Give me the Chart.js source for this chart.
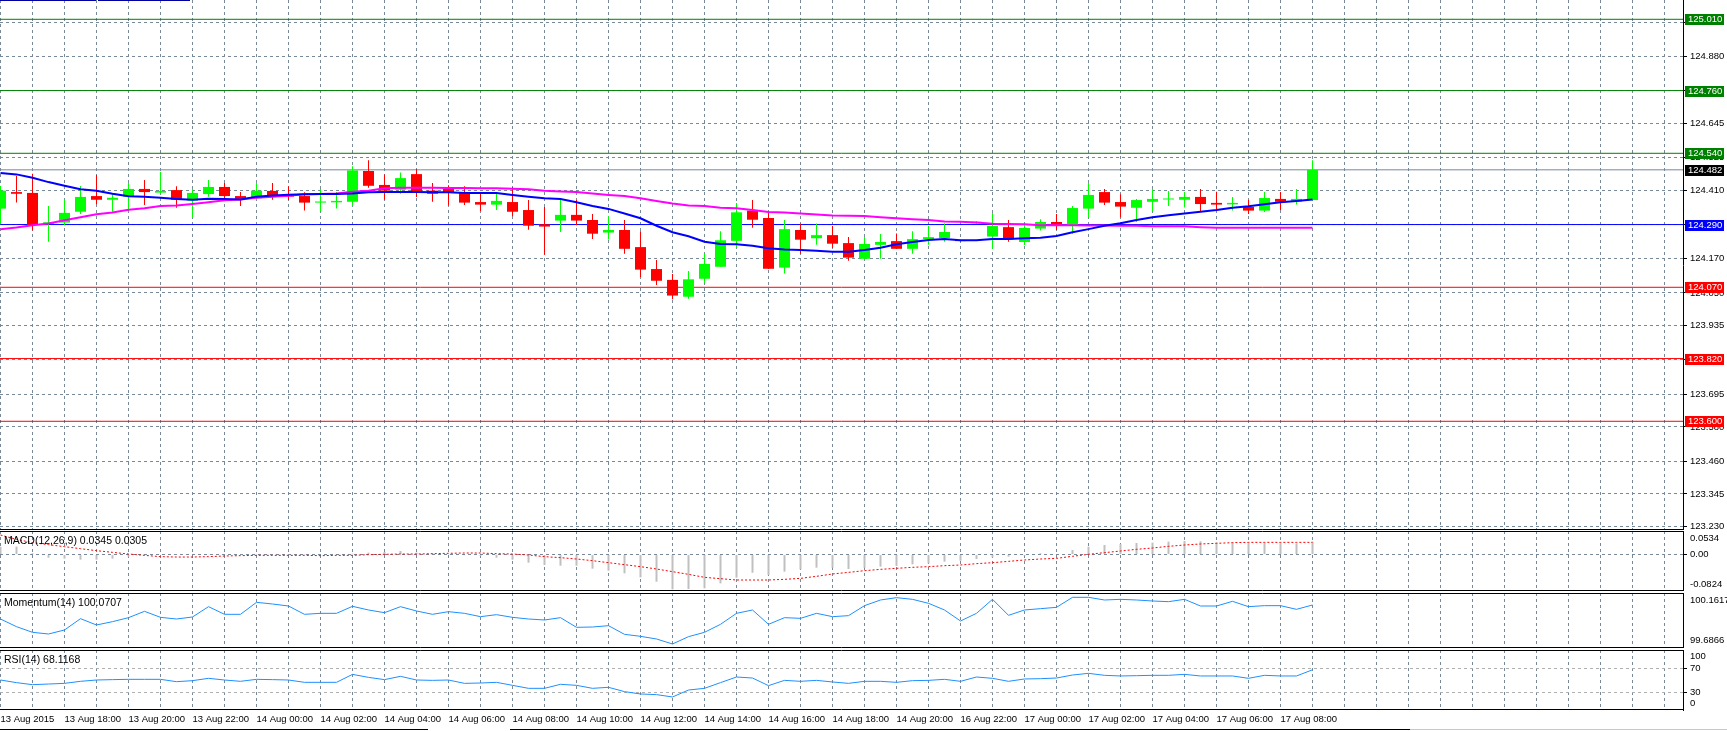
<!DOCTYPE html>
<html>
<head>
<meta charset="utf-8">
<script src="https://cdn.jsdelivr.net/npm/chart.js@4.4.1/dist/chart.umd.min.js"></script>
<style>
  body { margin: 0; background: #fff; width: 1727px; height: 731px; overflow: hidden; position: relative; }
  canvas { position: absolute; left: 0; }
  .strip { position: absolute; height: 1px; }
</style>
</head>
<body>
<canvas id="mainChart" width="1727" height="530" style="top:0"></canvas>
<canvas id="macdChart" width="1727" height="60" style="top:531px"></canvas>
<canvas id="momChart" width="1727" height="55" style="top:593px"></canvas>
<canvas id="rsiChart" width="1727" height="81" style="top:650px"></canvas>
<div class="strip" style="left:0;top:0;width:96px;background:#0000a0"></div>
<div class="strip" style="left:98px;top:0;width:92px;background:#0000a0"></div>
<div class="strip" style="left:0;top:729px;width:428px;background:#000"></div>
<div class="strip" style="left:510px;top:729px;width:900px;background:#000"></div>
<div class="strip" style="left:1410px;top:729px;width:317px;background:#c8c8c8"></div>
<script>
// 30분봉 시가/고가/저가/종가 (13 Aug 16:00 ~ 17 Aug 09:00)
const openPrices = [124.346, 124.404, 124.401, 124.292, 124.297, 124.335, 124.390, 124.377, 124.388, 124.415,
  124.402, 124.411, 124.374, 124.397, 124.422, 124.390, 124.382, 124.408, 124.394, 124.390,
  124.367, 124.368, 124.370, 124.478, 124.429, 124.412, 124.467, 124.409, 124.416, 124.404,
  124.369, 124.360, 124.369, 124.341, 124.291, 124.304, 124.324, 124.306, 124.262, 124.271,
  124.211, 124.134, 124.096, 124.037, 124.100, 124.142, 124.233, 124.339, 124.313, 124.139,
  124.271, 124.242, 124.253, 124.225, 124.170, 124.219, 124.232, 124.205, 124.239, 124.243,
  124.236, 124.295, 124.248, 124.281, 124.229, 124.276, 124.299, 124.285, 124.346, 124.404,
  124.369, 124.349, 124.370, 124.378, 124.377, 124.387, 124.366, 124.361, 124.352, 124.339,
  124.380, 124.370, 124.376];
const highPrices = [124.425, 124.460, 124.468, 124.355, 124.378, 124.425, 124.464, 124.396, 124.436, 124.446,
  124.474, 124.424, 124.415, 124.446, 124.436, 124.404, 124.436, 124.436, 124.424, 124.403,
  124.415, 124.404, 124.495, 124.516, 124.466, 124.473, 124.485, 124.436, 124.428, 124.424,
  124.404, 124.404, 124.422, 124.376, 124.352, 124.376, 124.376, 124.327, 124.319, 124.306,
  124.267, 124.166, 124.117, 124.127, 124.187, 124.267, 124.366, 124.376, 124.338, 124.306,
  124.294, 124.294, 124.285, 124.246, 124.246, 124.257, 124.259, 124.267, 124.285, 124.295,
  124.237, 124.302, 124.331, 124.306, 124.292, 124.309, 124.327, 124.355, 124.436, 124.415,
  124.396, 124.380, 124.415, 124.408, 124.404, 124.415, 124.405, 124.387, 124.376, 124.404,
  124.404, 124.415, 124.516];
const lowPrices = [124.291, 124.367, 124.269, 124.230, 124.288, 124.327, 124.361, 124.335, 124.339, 124.359,
  124.398, 124.349, 124.315, 124.388, 124.375, 124.355, 124.376, 124.377, 124.376, 124.339,
  124.338, 124.346, 124.355, 124.419, 124.377, 124.398, 124.387, 124.370, 124.357, 124.359,
  124.338, 124.341, 124.319, 124.272, 124.184, 124.264, 124.288, 124.239, 124.238, 124.188,
  124.106, 124.078, 124.028, 124.030, 124.086, 124.142, 124.209, 124.279, 124.134, 124.118,
  124.188, 124.219, 124.208, 124.163, 124.166, 124.170, 124.205, 124.188, 124.219, 124.230,
  124.231, 124.293, 124.205, 124.230, 124.218, 124.269, 124.271, 124.258, 124.316, 124.359,
  124.316, 124.299, 124.338, 124.355, 124.350, 124.338, 124.339, 124.339, 124.327, 124.334,
  124.341, 124.360, 124.376];
const closePrices = [124.409, 124.398, 124.288, 124.298, 124.331, 124.387, 124.377, 124.384, 124.415, 124.404,
  124.408, 124.377, 124.401, 124.422, 124.390, 124.380, 124.409, 124.390, 124.388, 124.367,
  124.371, 124.373, 124.480, 124.426, 124.409, 124.453, 124.404, 124.398, 124.403, 124.367,
  124.360, 124.373, 124.335, 124.286, 124.283, 124.324, 124.304, 124.258, 124.271, 124.205,
  124.132, 124.093, 124.041, 124.098, 124.152, 124.235, 124.333, 124.307, 124.135, 124.274,
  124.237, 124.253, 124.223, 124.174, 124.222, 124.229, 124.205, 124.239, 124.246, 124.264,
  124.232, 124.300, 124.285, 124.238, 124.278, 124.299, 124.285, 124.348, 124.394, 124.367,
  124.353, 124.376, 124.380, 124.381, 124.387, 124.362, 124.360, 124.366, 124.339, 124.383,
  124.370, 124.380, 124.482];

// 이동평균 (파란색: 단기, 자홍색: 장기)
const maFast = [124.471, 124.466, 124.454, 124.439, 124.426, 124.414, 124.409, 124.398, 124.389, 124.388,
  124.384, 124.380, 124.377, 124.381, 124.380, 124.378, 124.388, 124.392, 124.395, 124.396,
  124.397, 124.397, 124.399, 124.403, 124.404, 124.404, 124.404, 124.403, 124.403, 124.401,
  124.401, 124.401, 124.394, 124.388, 124.382, 124.380, 124.368, 124.355, 124.345, 124.329,
  124.312, 124.286, 124.263, 124.249, 124.230, 124.222, 124.221, 124.216, 124.207, 124.203,
  124.201, 124.198, 124.195, 124.195, 124.201, 124.209, 124.221, 124.229, 124.236, 124.239,
  124.235, 124.235, 124.239, 124.239, 124.242, 124.244, 124.250, 124.263, 124.274, 124.286,
  124.295, 124.306, 124.316, 124.323, 124.329, 124.335, 124.341, 124.349, 124.354, 124.361,
  124.368, 124.373, 124.378];
const maSlow = [124.274, 124.280, 124.288, 124.294, 124.305, 124.316, 124.326, 124.332, 124.342, 124.347,
  124.355, 124.357, 124.362, 124.368, 124.375, 124.378, 124.384, 124.388, 124.391, 124.396,
  124.397, 124.399, 124.405, 124.409, 124.417, 124.419, 124.419, 124.419, 124.418, 124.418,
  124.417, 124.417, 124.416, 124.414, 124.409, 124.406, 124.404, 124.399, 124.394, 124.390,
  124.382, 124.373, 124.364, 124.357, 124.355, 124.349, 124.347, 124.341, 124.334, 124.332,
  124.329, 124.325, 124.322, 124.321, 124.320, 124.316, 124.312, 124.309, 124.306, 124.301,
  124.300, 124.297, 124.293, 124.292, 124.291, 124.288, 124.288, 124.288, 124.287, 124.287,
  124.286, 124.286, 124.284, 124.284, 124.284, 124.281, 124.279, 124.279, 124.279, 124.279,
  124.279, 124.279, 124.279];

// 수평선 레벨
const resistanceLevels = [125.010, 124.760, 124.540];
const pivotLevel = 124.290;
const supportLevels = [124.070, 123.820, 123.600];

// 보조지표
const macdMain = [0.0179, 0.0179, 0.0029, -0.0070, -0.0092, -0.0115, -0.0115, -0.0092, -0.0047, -0.0017,
  -0.0009, -0.0002, 0.0000, 0.0006, 0.0000, -0.0005, 0.0005, 0.0010, 0.0005, -0.0005,
  -0.0010, 0.0000, 0.0020, 0.0044, 0.0060, 0.0081, 0.0044, 0.0029, 0.0006, -0.0017,
  -0.0032, -0.0070, -0.0115, -0.0183, -0.0236, -0.0251, -0.0251, -0.0319, -0.0364, -0.0424,
  -0.0515, -0.0613, -0.0786, -0.0779, -0.0764, -0.0651, -0.0522, -0.0409, -0.0462, -0.0386,
  -0.0334, -0.0296, -0.0296, -0.0326, -0.0296, -0.0273, -0.0258, -0.0220, -0.0198, -0.0160,
  -0.0138, -0.0100, -0.0062, -0.0047, -0.0024, 0.0029, 0.0013, 0.0104, 0.0179, 0.0217,
  0.0240, 0.0262, 0.0270, 0.0293, 0.0308, 0.0300, 0.0278, 0.0278, 0.0278, 0.0270,
  0.0270, 0.0255, 0.0293];
const macdSignal = [0.0443, 0.0345, 0.0270, 0.0225, 0.0179, 0.0134, 0.0089, 0.0051, 0.0013, -0.0017,
  -0.0047, -0.0055, -0.0055, -0.0047, -0.0032, -0.0024, -0.0017, -0.0017, -0.0017, -0.0017,
  -0.0024, -0.0017, -0.0017, -0.0002, 0.0006, 0.0013, 0.0013, 0.0021, 0.0029, 0.0036,
  0.0036, 0.0021, 0.0013, -0.0009, -0.0047, -0.0070, -0.0100, -0.0138, -0.0183, -0.0228,
  -0.0273, -0.0326, -0.0386, -0.0447, -0.0515, -0.0545, -0.0575, -0.0575, -0.0575, -0.0560,
  -0.0538, -0.0492, -0.0439, -0.0402, -0.0364, -0.0334, -0.0311, -0.0288, -0.0273, -0.0251,
  -0.0236, -0.0205, -0.0183, -0.0153, -0.0122, -0.0100, -0.0085, -0.0039, 0.0006, 0.0044,
  0.0081, 0.0119, 0.0149, 0.0187, 0.0217, 0.0240, 0.0255, 0.0270, 0.0277, 0.0277,
  0.0277, 0.0277, 0.0277];
const momentum = [99.9371, 99.8709, 99.8220, 99.8076, 99.8421, 99.9400, 99.8853, 99.9141, 99.9487, 100.0034,
  99.9515, 99.9371, 99.9544, 100.0437, 99.9775, 99.9775, 100.0811, 100.0667, 100.0494, 99.9775,
  99.9861, 99.9861, 100.0466, 100.0149, 99.9919, 100.0437, 100.0063, 99.9775, 100.0005, 99.9861,
  99.9573, 99.9746, 99.9515, 99.9371, 99.9285, 99.9487, 99.8652, 99.8680, 99.8796, 99.8047,
  99.7874, 99.7644, 99.7212, 99.7845, 99.8220, 99.8911, 99.9861, 100.0149, 99.8911, 99.9487,
  99.9429, 99.9861, 99.9573, 99.9659, 100.0523, 100.1013, 100.1214, 100.1070, 100.0725, 100.0149,
  99.9199, 99.9861, 100.1070, 99.9688, 100.0149, 100.0264, 100.0379, 100.1243, 100.1243, 100.1013,
  100.1070, 100.1013, 100.0926, 100.0869, 100.1070, 100.0494, 100.0494, 100.0898, 100.0437, 100.0523,
  100.0523, 100.0206, 100.0581];
const rsi = [50.0, 45.6, 42.2, 43.3, 44.4, 47.8, 50.0, 50.6, 51.1, 51.1,
  51.1, 47.2, 48.9, 52.8, 50.0, 47.8, 51.1, 50.6, 50.0, 46.1,
  46.1, 46.1, 59.4, 54.4, 50.6, 56.1, 50.0, 49.4, 50.0, 44.4,
  45.0, 46.1, 41.1, 36.1, 36.1, 42.8, 41.1, 36.1, 37.8, 30.6,
  26.7, 25.6, 21.7, 33.3, 36.1, 45.6, 55.0, 53.3, 40.6, 49.4,
  47.8, 49.4, 46.7, 44.4, 47.8, 47.8, 46.1, 48.9, 49.4, 51.1,
  47.8, 55.0, 52.8, 47.8, 51.7, 52.2, 53.3, 58.3, 61.1, 57.8,
  56.7, 57.2, 57.8, 57.8, 59.4, 56.7, 56.7, 56.7, 52.8, 57.8,
  56.7, 56.7, 67.0];

// 축 눈금
const timeLabels = ['13 Aug 2015', '13 Aug 18:00', '13 Aug 20:00', '13 Aug 22:00', '14 Aug 00:00',
  '14 Aug 02:00', '14 Aug 04:00', '14 Aug 06:00', '14 Aug 08:00', '14 Aug 10:00', '14 Aug 12:00',
  '14 Aug 14:00', '14 Aug 16:00', '14 Aug 18:00', '14 Aug 20:00', '16 Aug 22:00', '17 Aug 00:00',
  '17 Aug 02:00', '17 Aug 04:00', '17 Aug 06:00', '17 Aug 08:00'];
const priceTicks = [125.000, 124.880, 124.760, 124.645, 124.525, 124.410, 124.290, 124.170,
  124.050, 123.935, 123.815, 123.695, 123.580, 123.460, 123.345, 123.230];
const priceMin = 123.2187, priceMax = 125.0777;
const macdMin = -0.0824, macdMax = 0.0534;
const momMin = 99.6866, momMax = 100.1617;
const rsiLevels = [30, 70];

const gridColor = '#778899';
const bullColor = '#00ff00';
const bearColor = '#ff0000';
const font = { family: "'Liberation Sans', Arial, sans-serif", size: 9.5 };
const titleSize = 10.5;

Chart.defaults.font.family = font.family;
Chart.defaults.font.size = font.size;
Chart.defaults.color = '#000';
Chart.defaults.animation = false;

// 한 봉 = 16px, 격자/봉 중심이 픽셀에 딱 맞도록 반 픽셀 이동
const plotWidth = 1683;
const xMin = -0.5 / 16;
const xMax = xMin + plotWidth / 16;

function xScale(showLabels) {
    return {
        type: 'linear', min: xMin, max: xMax, bounds: 'data', offset: false,
        grid: { color: gridColor, drawTicks: false, offset: false },
        border: { display: false, dash: [3, 3] },
        ticks: {
            display: showLabels, autoSkip: false, maxRotation: 0, align: 'start', padding: 4,
            callback: v => (v % 4 === 0 && timeLabels[v / 4]) || ''
        },
        afterBuildTicks: s => {
            const t = [];
            for (let v = 0; v < xMax; v += 2) t.push({ value: v });
            s.ticks = t;
        },
        afterFit: s => { s.height = showLabels ? 21 : 0; s.paddingLeft = 0; s.paddingRight = 0; }
    };
}

function yFit(s) { s.width = s.chart.width - plotWidth; s.paddingTop = 0; s.paddingBottom = 0; }

// 패널 테두리와 제목
const panelFrame = {
    id: 'panelFrame',
    afterDraw(chart, args, opts) {
        const { ctx, chartArea: a } = chart;
        ctx.save();
        ctx.strokeStyle = '#000';
        ctx.lineWidth = 1;
        ctx.beginPath();
        if (opts.top) { ctx.moveTo(0, a.top + 0.5); ctx.lineTo(a.right, a.top + 0.5); }
        ctx.moveTo(0, a.bottom - 0.5);
        ctx.lineTo(a.right, a.bottom - 0.5);
        ctx.stroke();
        if (opts.title) {
            ctx.fillStyle = '#000';
            ctx.font = titleSize + 'px ' + font.family;
            ctx.textBaseline = 'middle';
            ctx.fillText(opts.title, 4, a.top + 10);
        }
        ctx.restore();
    }
};

// 레벨 가격 표시 박스
const levelList = [
    ...resistanceLevels.map(p => ({ price: p, line: '#008000', tag: '#008000' })),
    { price: closePrices[closePrices.length - 1], line: '#778899', tag: '#000000' },
    { price: pivotLevel, line: '#0000ff', tag: '#0000ff' },
    ...supportLevels.map(p => ({ price: p, line: '#ff0000', tag: '#ff0000' }))
];

const levelTags = {
    id: 'levelTags',
    afterDraw(chart) {
        const { ctx, chartArea: a, scales: { y } } = chart;
        ctx.save();
        ctx.font = font.size + 'px ' + font.family;
        ctx.textBaseline = 'middle';
        levelList.forEach(l => {
            const py = Math.round(y.getPixelForValue(l.price));
            ctx.fillStyle = l.tag;
            ctx.fillRect(a.right + 2, py - 5, 39, 11);
            ctx.fillStyle = '#fff';
            ctx.fillText(l.price.toFixed(3), a.right + 5, py + 0.5);
        });
        ctx.restore();
    }
};

const candleColor = ctx => closePrices[ctx.dataIndex] >= openPrices[ctx.dataIndex] ? bullColor : bearColor;
const series = arr => arr.map((v, i) => ({ x: i, y: v }));

const common = {
    responsive: false,
    events: [],
    layout: { padding: 0 },
    plugins: { legend: { display: false }, tooltip: { enabled: false } }
};

// 메인 가격 차트
new Chart(document.getElementById('mainChart'), {
    type: 'bar',
    data: {
        datasets: [
            { type: 'line', data: series(maFast), borderColor: '#0000ff', borderWidth: 2, pointRadius: 0, order: 1 },
            { type: 'line', data: series(maSlow), borderColor: '#ff00ff', borderWidth: 2, pointRadius: 0, order: 2 },
            { type: 'bar', data: openPrices.map((o, i) => ({ x: i, y: [o, closePrices[i]] })),
              backgroundColor: candleColor, grouped: false, maxBarThickness: 11, minBarLength: 1, order: 3 },
            { type: 'bar', data: lowPrices.map((l, i) => ({ x: i, y: [l, highPrices[i]] })),
              backgroundColor: candleColor, grouped: false, maxBarThickness: 1, order: 4 },
            ...levelList.map(l => ({
                type: 'line', data: [{ x: xMin, y: l.price }, { x: xMax, y: l.price }],
                borderColor: l.line, borderWidth: 1, pointRadius: 0, order: 5
            }))
        ]
    },
    options: {
        ...common,
        plugins: { ...common.plugins, panelFrame: { top: false } },
        scales: {
            x: xScale(false),
            y: {
                position: 'right', min: priceMin, max: priceMax, bounds: 'data',
                grid: { color: gridColor, tickColor: '#000', tickLength: 4 },
                border: { display: true, color: '#000', dash: [3, 3] },
                ticks: { padding: 3, autoSkip: false, callback: v => v.toFixed(3) },
                afterBuildTicks: s => { s.ticks = priceTicks.map(value => ({ value })); },
                afterFit: yFit
            }
        }
    },
    plugins: [panelFrame, levelTags]
});

// 보조지표 패널 공통 생성
function indicatorChart(id, datasets, yMin, yMax, tickValues, tickLabels, gridAt, gridTone, title, showX) {
    return new Chart(document.getElementById(id), {
        type: 'bar',
        data: { datasets },
        options: {
            ...common,
            plugins: { ...common.plugins, panelFrame: { top: true, title } },
            scales: {
                x: xScale(showX),
                y: {
                    position: 'right', min: yMin, max: yMax, bounds: 'data',
                    grid: {
                        tickLength: 4,
                        color: c => gridAt.includes(c.index) ? gridTone : 'rgba(0,0,0,0)',
                        tickColor: c => gridAt.includes(c.index) ? '#000' : 'rgba(0,0,0,0)'
                    },
                    border: { display: true, color: '#000', dash: [3, 3] },
                    ticks: { padding: 3, autoSkip: false, callback: (v, i) => tickLabels[i] },
                    afterBuildTicks: s => { s.ticks = tickValues(s).map(value => ({ value })); },
                    afterFit: yFit
                }
            }
        },
        plugins: [panelFrame]
    });
}

// 가장자리 라벨은 패널 안쪽으로 살짝 들여서 표시
const inset = (s, top, bottom) => {
    const span = s.max - s.min;
    return { lo: s.min + span * bottom, hi: s.max - span * top };
};

indicatorChart('macdChart', [
    { type: 'bar', data: series(macdMain), backgroundColor: '#c0c0c0', grouped: false, maxBarThickness: 2, order: 2 },
    { type: 'line', data: series(macdSignal), borderColor: '#ff0000', borderWidth: 1, borderDash: [2, 2], pointRadius: 0, order: 1 }
], macdMin, macdMax,
   s => { const r = inset(s, 0.13, 0.11); return [r.lo, 0, r.hi]; },
   [macdMin.toFixed(4), '0.00', macdMax.toFixed(4)], [1], gridColor,
   'MACD(12,26,9) 0.0345 0.0305', false);

indicatorChart('momChart', [
    { type: 'line', data: series(momentum), borderColor: '#1e90ff', borderWidth: 1, pointRadius: 0 }
], momMin, momMax,
   s => { const r = inset(s, 0.13, 0.14); return [r.lo, r.hi]; },
   [momMin.toFixed(4), momMax.toFixed(4)], [], gridColor,
   'Momentum(14) 100.0707', false);

indicatorChart('rsiChart', [
    { type: 'line', data: series(rsi), borderColor: '#1e90ff', borderWidth: 1, pointRadius: 0 }
], 0, 100,
   s => { const r = inset(s, 0.11, 0.11); return [r.lo, rsiLevels[0], rsiLevels[1], r.hi]; },
   ['0', String(rsiLevels[0]), String(rsiLevels[1]), '100'], [1, 2], '#b0b0b0',
   'RSI(14) 68.1168', true);
</script>
</body>
</html>
